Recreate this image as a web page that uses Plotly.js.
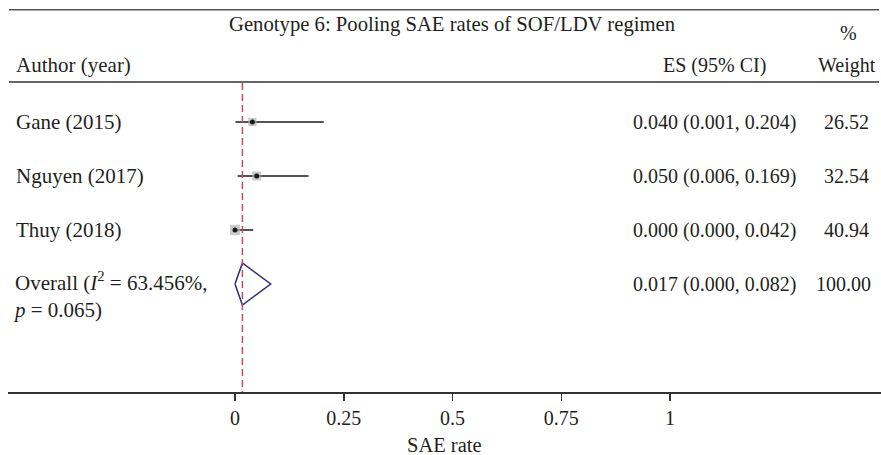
<!DOCTYPE html>
<html>
<head>
<meta charset="utf-8">
<script src="https://cdn.plot.ly/plotly-3.0.1.min.js"></script>
<style>html,body{margin:0;padding:0;background:#fff;}#chart{width:881px;height:455px;}</style>
</head>
<body>
<div id="chart"></div>
<script>
// ---- data ----
const studies = ["Gane (2015)", "Nguyen (2017)", "Thuy (2018)"];
const es = [0.040, 0.050, 0.000];
const ciLow = [0.001, 0.006, 0.000];
const ciHigh = [0.204, 0.169, 0.042];
const weights = [26.52, 32.54, 40.94];
const overallLabel = "Overall (<i>I</i><sup>2</sup> = 63.456%,<br><i>p</i> = 0.065)";
const overallES = [0.017];
const overallLow = [0.000];
const overallHigh = [0.082];
const overallWeight = [100.00];
const tickVals = [0, 0.25, 0.5, 0.75, 1];
const tickText = ["0", "0.25", "0.5", "0.75", "1"];
const chartTitle = "Genotype 6: Pooling SAE rates of SOF/LDV regimen";
const xTitle = "SAE rate";

// ---- layout helpers ----
const W = 881, H = 455;
const mL = 8, mR = 0, mT = 9, mB = 63;
const px0 = 235, pxPerUnit = 435;             // x=0 at 235px, 1 unit = 435px
const xmin = -(px0 - mL) / pxPerUnit;
const xmax = xmin + (W - mL - mR) / pxPerUnit;
const row0px = 122, rowPx = 54;               // row 1 at 122px
const r = px => 1 + (px - row0px) / rowPx;    // pixel y -> row units
const xd = px => (px - px0) / pxPerUnit;      // pixel x -> data units
const yTop = r(mT), yBot = r(H - mB);
const plotH = H - mT - mB, plotW = W - mL - mR;

const txt = '#231f20';
const FONT = 'Liberation Serif, Times New Roman, serif';
const fmt = v => v.toFixed(3);

const rows = studies.map((s, i) => i + 1);
const overallRow = studies.length + 1;

// CI lines
const ciX = [], ciY = [];
rows.forEach((rw, i) => { ciX.push(ciLow[i], ciHigh[i], null); ciY.push(rw, rw, null); });

const traces = [
  { type: 'scatter', mode: 'lines', x: ciX, y: ciY, line: { color: '#1a1a1a', width: 1.5 }, hoverinfo: 'skip', showlegend: false },
  { type: 'scatter', mode: 'markers', x: es, y: rows,
    marker: { symbol: 'square', color: '#b4b4b4', size: weights.map(w => Math.sqrt(w) * 1.6), line: { width: 0 } },
    hoverinfo: 'skip', showlegend: false },
  { type: 'scatter', mode: 'markers', x: es, y: rows,
    marker: { symbol: 'circle', color: '#1a1a1a', size: 5 }, hoverinfo: 'skip', showlegend: false },
  { type: 'scatter', mode: 'lines',
    x: [overallLow[0], overallES[0], overallHigh[0], overallES[0], overallLow[0]],
    y: [overallRow, overallRow - 21 / rowPx, overallRow, overallRow + 21 / rowPx, overallRow],
    line: { color: '#2a2a86', width: 1.5 }, hoverinfo: 'skip', showlegend: false }
];

const ann = [];
const A = (x, y, text, xanchor, size, align) => ({
  x: x, y: y, xref: 'x', yref: 'y', text: text, showarrow: false, align: align || 'center',
  xanchor: xanchor, yanchor: 'middle', font: { family: FONT, size: size || 20, color: txt }
});

ann.push(A(xd(452), r(24), chartTitle, 'center', 20.7));
ann.push(A(xd(848), r(33), '%', 'center'));
ann.push(A(xd(14), r(65), 'Author (year)', 'left', 21));
ann.push(A(xd(714), r(65), 'ES (95% CI)', 'center'));
ann.push(A(xd(847), r(65), 'Weight', 'center'));

studies.forEach((s, i) => {
  ann.push(A(xd(14), rows[i], s, 'left', 21));
  ann.push(A(xd(631), rows[i], fmt(es[i]) + ' (' + fmt(ciLow[i]) + ', ' + fmt(ciHigh[i]) + ')', 'left'));
  ann.push(A(xd(846), rows[i], weights[i].toFixed(2), 'center'));
});
ann.push(A(xd(11), r(295), overallLabel, 'left', 21, 'left'));
ann.push(A(xd(631), overallRow, fmt(overallES[0]) + ' (' + fmt(overallLow[0]) + ', ' + fmt(overallHigh[0]) + ')', 'left'));
ann.push(A(xd(843), overallRow, overallWeight[0].toFixed(2), 'center'));

// x-axis title (paper coordinates, below the plot area)
ann.push({ x: (444.5 - mL) / plotW, y: (H - mB - 445) / plotH, xref: 'paper', yref: 'paper', text: xTitle, showarrow: false,
  xanchor: 'center', yanchor: 'middle', font: { family: FONT, size: 20.5, color: txt } });

const shapes = [
  { type: 'line', xref: 'x', yref: 'y', x0: xd(9), x1: xd(879), y0: r(9.5), y1: r(9.5), line: { color: '#555', width: 2 } },
  { type: 'line', xref: 'x', yref: 'y', x0: xd(9), x1: xd(879), y0: r(82), y1: r(82), line: { color: '#666', width: 2 } },
  { type: 'line', xref: 'x', yref: 'y', x0: overallES[0], x1: overallES[0], y0: r(83), y1: yBot,
    line: { color: '#c0505f', width: 1.5, dash: '7px,4px' } }
];

const layout = {
  width: W, height: H,
  margin: { l: mL, r: mR, t: mT, b: mB, pad: 0 },
  paper_bgcolor: '#fff', plot_bgcolor: '#fff',
  showlegend: false,
  font: { family: FONT, size: 20, color: txt },
  xaxis: {
    range: [xmin, xmax], autorange: false, fixedrange: true,
    tickvals: tickVals, ticktext: tickText,
    ticks: 'outside', ticklen: 7, tickwidth: 1.5, tickcolor: '#333',
    showline: true, linecolor: '#333', linewidth: 1.5,
    showgrid: false, zeroline: false,
    tickfont: { family: FONT, size: 20, color: txt },
    ticklabelstandoff: 0
  },
  yaxis: {
    range: [yBot, yTop], autorange: false, fixedrange: true,
    showgrid: false, zeroline: false, showline: false, showticklabels: false, ticks: ''
  },
  annotations: ann,
  shapes: shapes
};

Plotly.newPlot('chart', traces, layout, { staticPlot: true, displayModeBar: false });
</script>
</body>
</html>
